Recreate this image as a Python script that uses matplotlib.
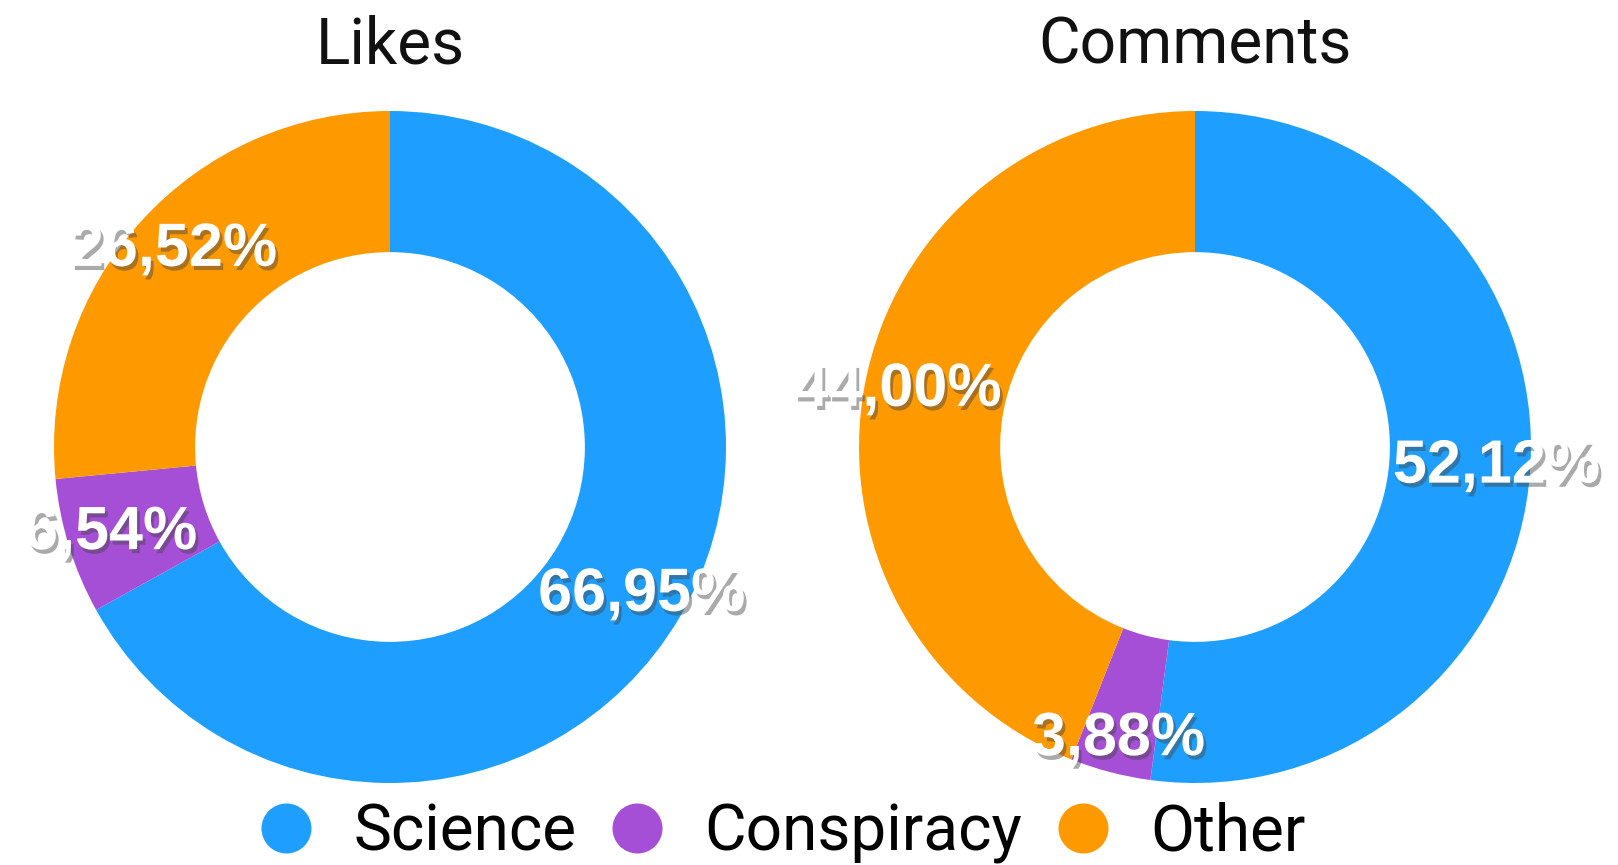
import matplotlib
matplotlib.use("Agg")
import matplotlib.pyplot as plt
import matplotlib.patheffects as pe
from matplotlib.lines import Line2D
import numpy as np

# data
categories = ["Science", "Conspiracy", "Other"]
likes_values = [66.95, 6.54, 26.52]
comments_values = [52.12, 3.88, 44.00]
titles = ["Likes", "Comments"]
colors = ["#1E9FFF", "#A54FD6", "#FF9900"]

plt.rcParams['font.family'] = ['Roboto', 'Liberation Sans', 'DejaVu Sans']

fig = plt.figure(figsize=(16.18, 8.65), dpi=100)
# axes boxes in figure fractions, so the donuts sit where the reference has them
ax_boxes = [[54 / 1618, 1 - 784 / 865, 672 / 1618, 674 / 865],
            [859 / 1618, 1 - 784 / 865, 672 / 1618, 674 / 865]]
label_dist = [0.87, 0.9]

shadow = [pe.SimplePatchShadow(offset=(2, -3), shadow_rgbFace="#444444", alpha=0.45), pe.Normal()]

for box, vals, title, ld in zip(ax_boxes, [likes_values, comments_values], titles, label_dist):
    ax = fig.add_axes(box)
    wedges, _ = ax.pie(vals, colors=colors, startangle=90, counterclock=False,
                       wedgeprops=dict(width=0.42, linewidth=0), radius=1.0)
    ax.set_aspect("equal")
    ax.set_xlim(-1, 1)
    ax.set_ylim(-1, 1)
    # percentage labels placed at the middle angle of every wedge
    for w, v in zip(wedges, vals):
        ang = np.deg2rad((w.theta1 + w.theta2) / 2)
        txt = f"{v:.2f}%".replace(".", ",")
        ax.text(ld * np.cos(ang), ld * np.sin(ang), txt, ha="center", va="center",
                fontsize=44, fontweight="bold", color="white",
                family=['Liberation Sans', 'DejaVu Sans'], path_effects=shadow)
    cx = box[0] + box[2] / 2
    fig.text(cx, 1 - 46 / 865, title, ha="center", va="center", fontsize=46,
             fontweight="normal", color="#111111")

handles = [Line2D([], [], marker="o", linestyle="", markersize=36, markerfacecolor=c,
                  markeredgewidth=0) for c in colors]
fig.legend(handles, categories, loc="center", bbox_to_anchor=(780 / 1618, 1 - 833 / 865),
           ncol=3, frameon=False, fontsize=46, handletextpad=0.55, columnspacing=0.45,
           handlelength=1.0, borderpad=0)

fig.savefig("out.png", dpi=100)
